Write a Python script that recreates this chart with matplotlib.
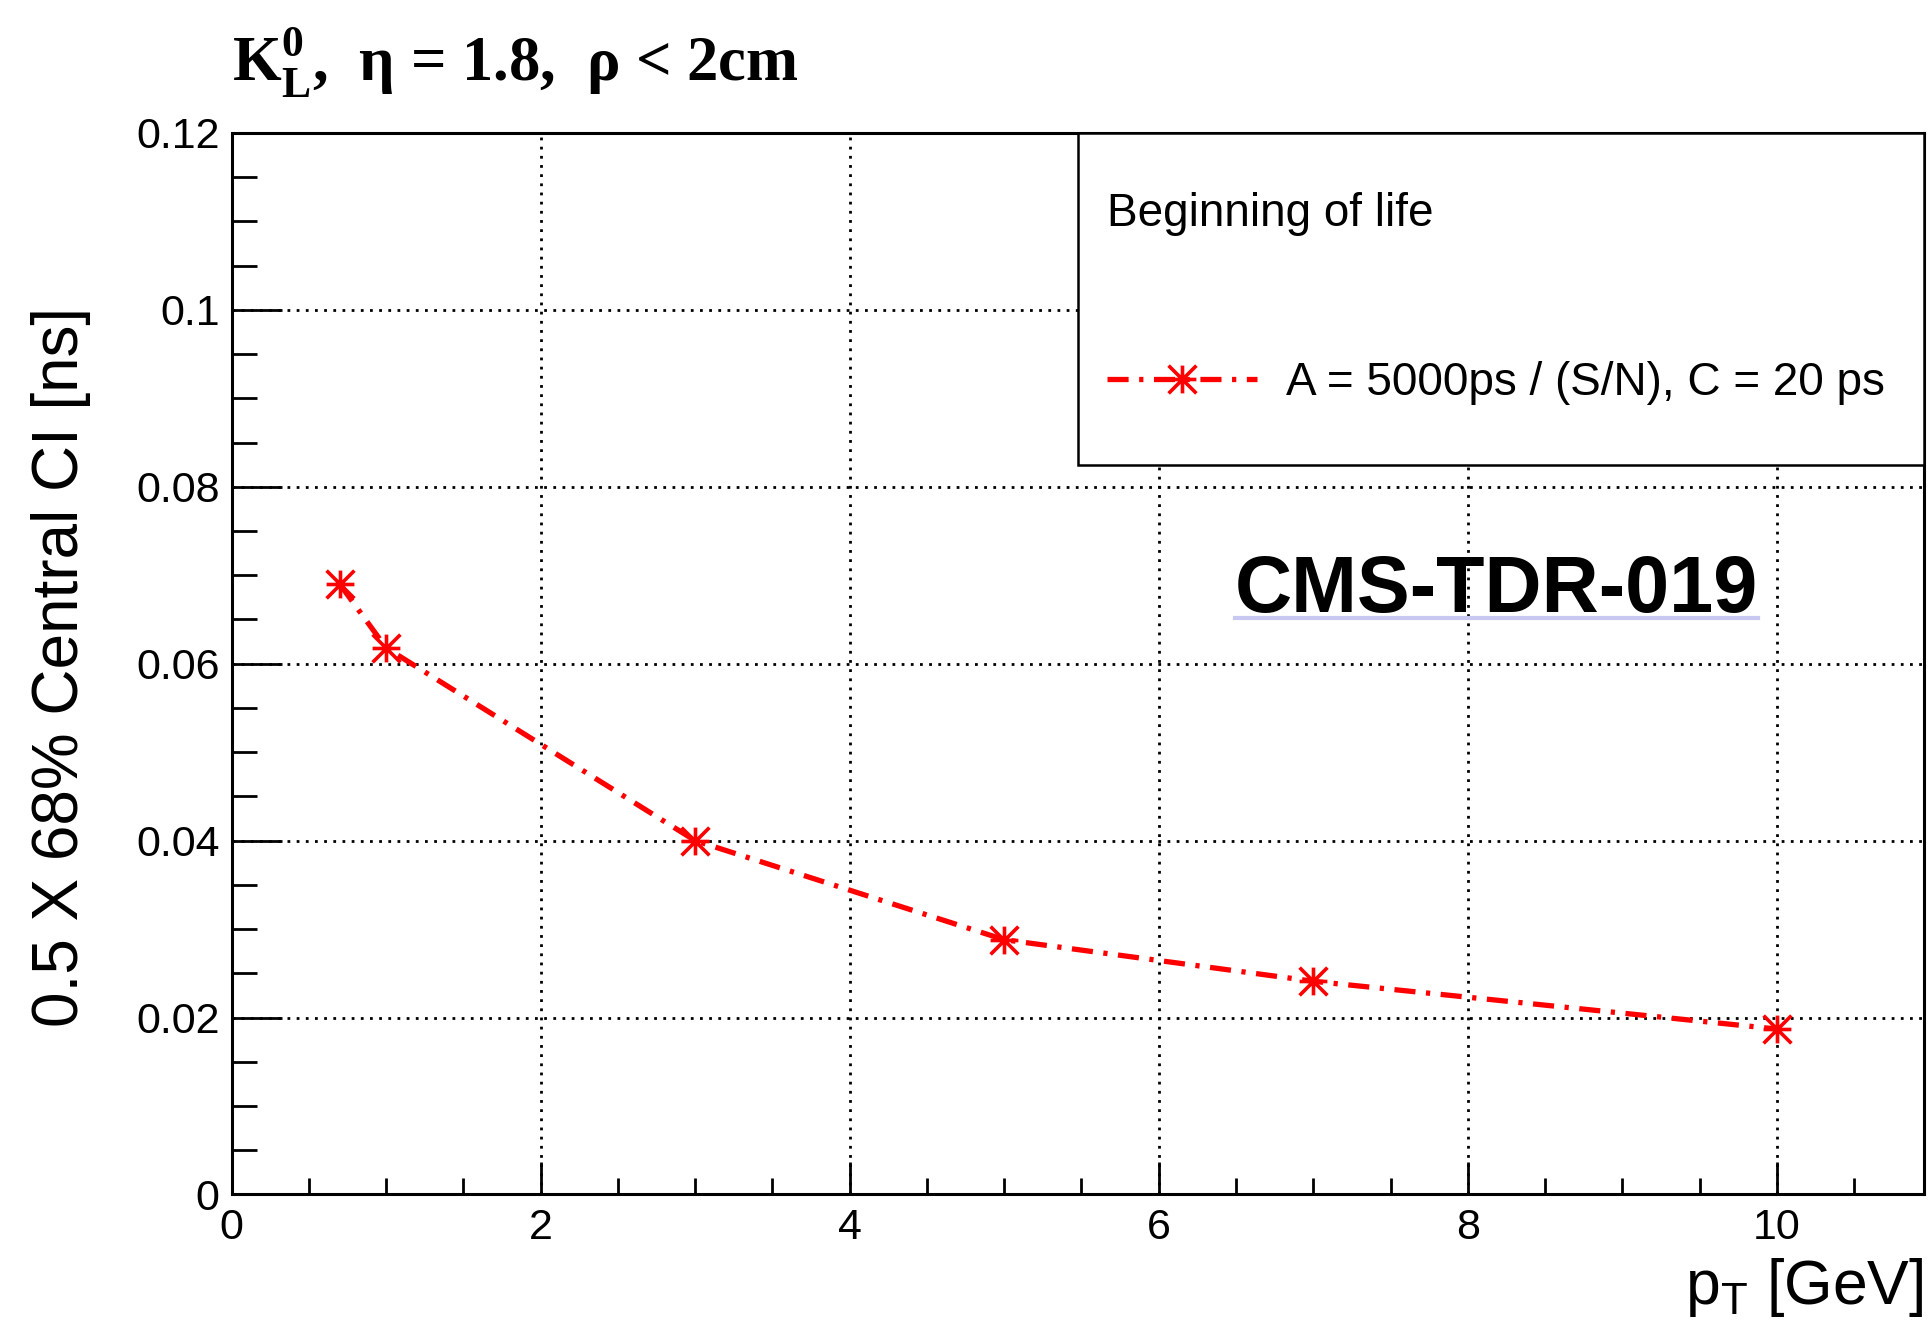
import matplotlib
matplotlib.use('Agg')
import matplotlib.pyplot as plt
from matplotlib.path import Path
from matplotlib.patches import Rectangle
from matplotlib.lines import Line2D
from matplotlib.transforms import IdentityTransform
from matplotlib.ticker import MultipleLocator, FuncFormatter

# data
pt_gev = [0.7, 1.0, 3.0, 5.0, 7.0, 10.0]
ci_ns = [0.0690, 0.0618, 0.0400, 0.0288, 0.0241, 0.0187]

series_label = 'A = 5000ps / (S/N), C = 20 ps'
legend_header = 'Beginning of life'
title_text = r'$\mathbf{K}^{\mathbf{0}}_{\mathbf{L}}$,  η = 1.8,  ρ < 2cm'
x_title = r'$\mathsf{p}_{\mathsf{T}}$ [GeV]'
y_title = '0.5 X 68% Central CI [ns]'
stamp = 'CMS-TDR-019'

plt.rcParams['font.family'] = ['Liberation Sans', 'DejaVu Sans']
plt.rcParams['mathtext.fontset'] = 'custom'
plt.rcParams['mathtext.rm'] = 'Liberation Serif'
plt.rcParams['mathtext.bf'] = 'Liberation Serif:bold'
plt.rcParams['mathtext.sf'] = 'Liberation Sans'

# ROOT style star marker (+ and x overlaid)
star = Path([(-1, 0), (1, 0), (0, -1), (0, 1), (-1, -1), (1, 1), (-1, 1), (1, -1)],
            [Path.MOVETO, Path.LINETO] * 4)

fig = plt.figure(figsize=(19.31, 13.20), dpi=100)
ax = fig.add_axes([0.1199, 0.0951, 0.8763, 0.8042])

line, = ax.plot(pt_gev, ci_ns, color='#ff0000', lw=3.8,
                linestyle=(0, (4.0, 2.0, 0.8, 2.0)),
                marker=star, markersize=20, markeredgewidth=2.6,
                markerfacecolor='none', markeredgecolor='#ff0000', zorder=4)

ax.set_xlim(0, 10.95)
ax.set_ylim(0, 0.12)

ax.xaxis.set_major_locator(MultipleLocator(2))
ax.xaxis.set_minor_locator(MultipleLocator(0.5))
ax.yaxis.set_major_locator(MultipleLocator(0.02))
ax.yaxis.set_minor_locator(MultipleLocator(0.005))
ax.yaxis.set_major_formatter(FuncFormatter(lambda v, p: f'{v:g}'))
ax.xaxis.set_major_formatter(FuncFormatter(lambda v, p: f'{v:g}'))

ax.tick_params(which='both', direction='in', top=False, right=False,
               width=2, color='black', labelsize=31)
ax.tick_params(axis='x', which='major', length=23, pad=10)
ax.tick_params(axis='x', which='minor', length=11.5)
ax.tick_params(axis='y', which='major', length=36, pad=8.5)
ax.tick_params(axis='y', which='minor', length=18)

for s in ax.spines.values():
    s.set_linewidth(2.2)

ax.set_axisbelow(True)
ax.grid(True, which='major', color='black', lw=2.0, linestyle=(0, (1.0, 2.3)))

ax.set_xlabel(x_title, fontsize=45, ha='right')
ax.xaxis.set_label_coords(1.0, -0.058)
ax.set_ylabel(y_title, fontsize=46)
ax.yaxis.set_label_coords(-0.083, 0.497)

fig.text(0.1199, 0.9386, title_text, fontsize=45, fontfamily='Liberation Serif',
         fontweight='bold', ha='left', va='baseline')

# legend box
ax.add_patch(Rectangle((0.5, 0.687), 0.5, 0.313, transform=ax.transAxes,
                       facecolor='white', edgecolor='black', lw=1.8, zorder=3))
leg = ax.legend(handles=[line], labels=[series_label], title=legend_header,
                loc='upper left', bbox_to_anchor=(0.5, 0.972), frameon=False,
                fontsize=33, title_fontsize=33, alignment='left',
                handlelength=3.27, handletextpad=0.63, borderpad=0.15,
                labelspacing=2.72, numpoints=1)
leg.set_zorder(5)

t = ax.text(0.593, 0.549, stamp, transform=ax.transAxes, fontsize=57,
            fontweight='bold', ha='left', va='baseline', zorder=5)

# hyperlink-like underline under the stamp
fig.canvas.draw()
bb = t.get_window_extent()
base_y = ax.transAxes.transform((0.593, 0.549))[1]
fig.add_artist(Line2D([bb.x0, bb.x1], [base_y - 6, base_y - 6],
                      transform=IdentityTransform(), color='#c8c8f2', lw=3))

fig.savefig('out.png', dpi=100, facecolor='white')
